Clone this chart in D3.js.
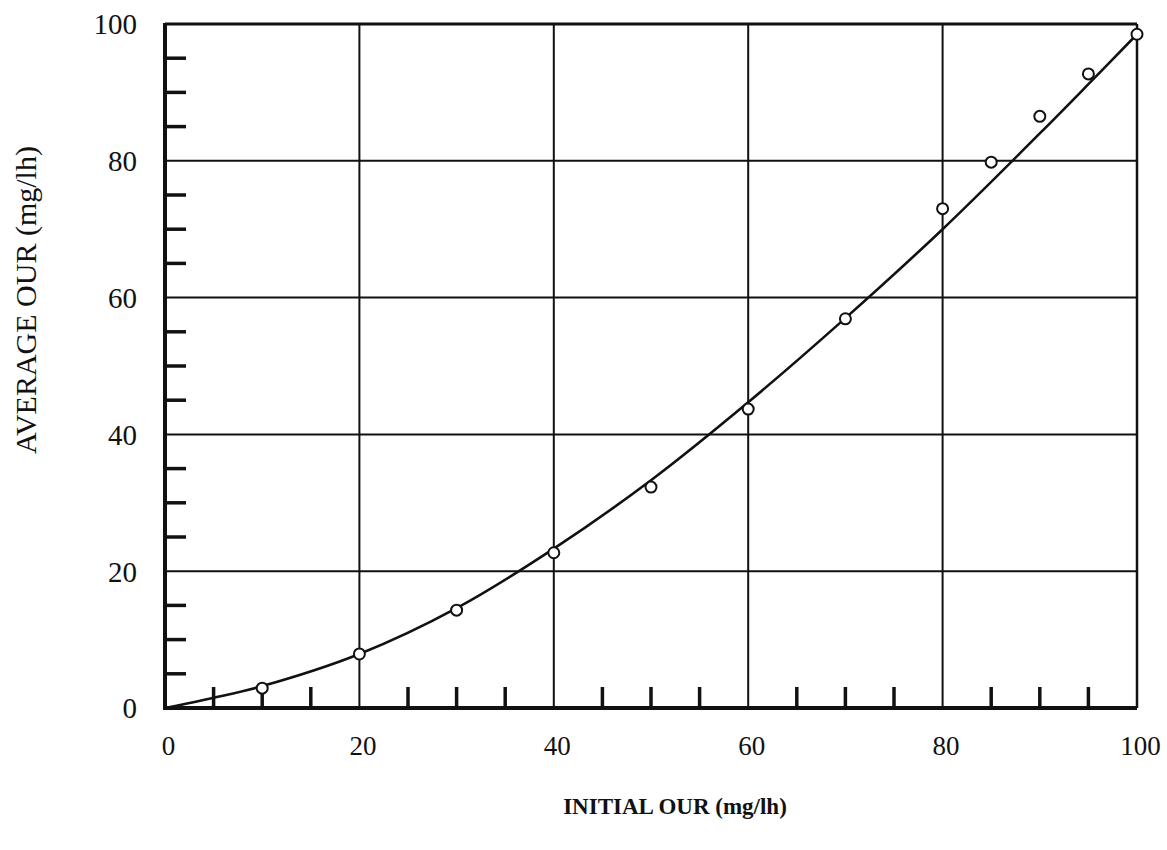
<!DOCTYPE html>
<html>
<head>
<meta charset="utf-8">
<script src="https://cdn.jsdelivr.net/npm/d3@7"></script>
<style>
  html, body { margin: 0; padding: 0; background: #fff; }
  svg { display: block; }
</style>
</head>
<body>
<svg id="chart" width="1167" height="850"></svg>
<script>
// ---- data ----
const initialOUR = [10, 20, 30, 40, 50, 60, 70, 80, 85, 90, 95, 100];
const averageOUR = [2.9, 7.9, 14.3, 22.7, 32.3, 43.7, 56.9, 73.0, 79.8, 86.5, 92.7, 98.5];
const fitX = [0, 5, 10, 20, 30, 40, 50, 60, 70, 80, 90, 95, 100];
const fitY = [0, 1.5, 3.2, 7.9, 14.6, 23.3, 33.3, 44.7, 57.0, 70.0, 84.0, 91.2, 98.5];
const xTicks = [0, 20, 40, 60, 80, 100];
const yTicks = [0, 20, 40, 60, 80, 100];
const xMinor = [5, 10, 15, 25, 30, 35, 45, 50, 55, 65, 70, 75, 85, 90, 95];
const yMinor = [5, 10, 15, 25, 30, 35, 45, 50, 55, 65, 70, 75, 85, 90, 95];
const xTitle = "INITIAL OUR (mg/lh)";
const yTitle = "AVERAGE OUR (mg/lh)";

// ---- layout ----
const svg = d3.select("#chart");
const x = d3.scaleLinear().domain([0, 100]).range([165, 1137]);
const y = d3.scaleLinear().domain([0, 100]).range([708, 24]);
const ink = "#111";
const serif = "'Liberation Serif', 'Times New Roman', serif";

// gridlines
svg.append("g").selectAll("line").data(xTicks.slice(1, -1)).join("line")
  .attr("x1", d => x(d)).attr("x2", d => x(d))
  .attr("y1", y(0)).attr("y2", y(100))
  .attr("stroke", ink).attr("stroke-width", 2);
svg.append("g").selectAll("line").data(yTicks.slice(1, -1)).join("line")
  .attr("x1", x(0)).attr("x2", x(100))
  .attr("y1", d => y(d)).attr("y2", d => y(d))
  .attr("stroke", ink).attr("stroke-width", 2);

// minor ticks (inside)
svg.append("g").selectAll("line").data(xMinor).join("line")
  .attr("x1", d => x(d)).attr("x2", d => x(d))
  .attr("y1", y(0)).attr("y2", y(0) - 21)
  .attr("stroke", ink).attr("stroke-width", 3.5);
svg.append("g").selectAll("line").data(yMinor).join("line")
  .attr("x1", x(0)).attr("x2", x(0) + 21)
  .attr("y1", d => y(d)).attr("y2", d => y(d))
  .attr("stroke", ink).attr("stroke-width", 3.5);

// frame
svg.append("line").attr("x1", x(0)).attr("x2", x(100)).attr("y1", y(100)).attr("y2", y(100))
  .attr("stroke", ink).attr("stroke-width", 3);
svg.append("line").attr("x1", x(100)).attr("x2", x(100)).attr("y1", y(100)).attr("y2", y(0))
  .attr("stroke", ink).attr("stroke-width", 2.5);
svg.append("line").attr("x1", x(0)).attr("x2", x(0)).attr("y1", y(100) - 1).attr("y2", y(0) + 1)
  .attr("stroke", ink).attr("stroke-width", 4);
svg.append("line").attr("x1", x(0) - 2).attr("x2", x(100)).attr("y1", y(0)).attr("y2", y(0))
  .attr("stroke", ink).attr("stroke-width", 4);

// fitted curve
const line = d3.line().x(d => x(d[0])).y(d => y(d[1])).curve(d3.curveCatmullRom.alpha(0.5));
svg.append("path").datum(fitX.map((v, i) => [v, fitY[i]]))
  .attr("d", line).attr("fill", "none").attr("stroke", ink).attr("stroke-width", 2.6);

// data points
svg.append("g").selectAll("circle").data(initialOUR.map((v, i) => [v, averageOUR[i]])).join("circle")
  .attr("cx", d => x(d[0])).attr("cy", d => y(d[1])).attr("r", 5.5)
  .attr("fill", "#fff").attr("stroke", ink).attr("stroke-width", 2);

// axes labels via d3 axes
const yAxis = d3.axisLeft(y).tickValues(yTicks).tickSize(0).tickPadding(0).tickFormat(d3.format("d"));
const gy = svg.append("g").attr("transform", `translate(${x(0) - 28},0)`).call(yAxis);
gy.select(".domain").remove();
gy.selectAll("text").attr("font-family", serif)
  .attr("font-size", 29).attr("fill", ink).attr("dy", "0.34em");

const xAxis = d3.axisBottom(x).tickValues(xTicks).tickSize(0).tickPadding(0).tickFormat(d3.format("d"));
const gx = svg.append("g").attr("transform", `translate(3,${y(0) + 28})`).call(xAxis);
gx.select(".domain").remove();
gx.selectAll("text").attr("font-family", serif)
  .attr("font-size", 27).attr("fill", ink);

// titles
svg.append("text").attr("x", 675).attr("y", 814).attr("text-anchor", "middle")
  .attr("font-family", serif).attr("font-weight", "bold")
  .attr("font-size", 23).attr("fill", ink).text(xTitle);
svg.append("text").attr("transform", "translate(36,300) rotate(-90)").attr("text-anchor", "middle")
  .attr("font-family", serif)
  .attr("font-size", 30).attr("fill", ink).text(yTitle);
</script>
</body>
</html>
